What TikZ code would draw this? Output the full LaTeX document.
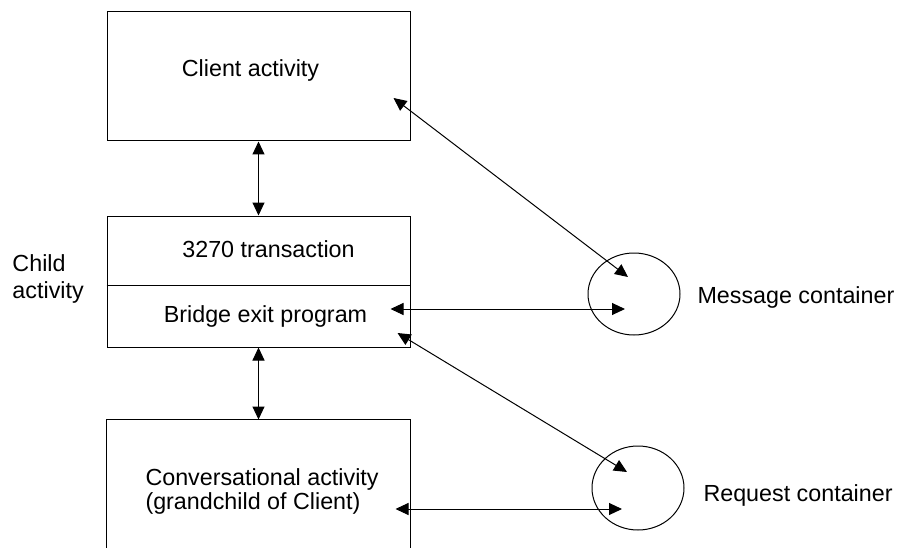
\documentclass[tikz,border=0pt]{standalone}
\usepackage{fontspec}
\setmainfont{Liberation Sans}
\usetikzlibrary{arrows.meta,shapes.geometric}
\begin{document}
\begin{tikzpicture}
      [x=1pt,y=-1pt,line width=1pt,>={Triangle[length=13pt,width=12pt]},
       font=\fontsize{23.3}{24}\selectfont,
       box/.style={draw, rectangle, inner sep=0pt, minimum width=303pt},
       cont/.style={draw, ellipse, inner sep=0pt, minimum width=92pt, minimum height=82pt},
       lbl/.style={inner sep=0pt, anchor=base},
       side/.style={inner sep=0pt, anchor=base west, align=left}]
    \useasboundingbox (0,0) rectangle (901,548);

    \node[box, minimum height=129pt] (client) at (258.5,76.5) {};
    \node[box, minimum height=131pt] (child) at (258.5,281.5) {};
    \node[inner sep=0pt, minimum width=303pt, minimum height=128pt] (conv) at (258.5,484) {};
    \node[cont] (msg) at (634,294) {};
    \node[cont, minimum height=84pt] (req) at (638,488) {};

    \draw ([yshift=-3.5pt]child.west) -- ([yshift=-3.5pt]child.east);
    \draw (conv.south west) -- (conv.north west) -- (conv.north east) -- (conv.south east);

    \node[lbl] (clienttxt) at (250.5,77) {Client activity};
    \node[lbl] (transtxt) at (268.5,257) {3270 transaction};
    \node[lbl] (bridgetxt) at (265.5,322) {Bridge exit program};
    \node[side] (convtxt) at (145,509) {Conversational activity\\(grandchild of Client)};
    \node[side, font=\fontsize{23.3}{27}\selectfont] (childtxt) at (12,298) {Child\\activity};
    \node[side] (msgtxt) at (697,303) {Message container};
    \node[side] (reqtxt) at (703,501) {Request container};

    \foreach \from/\to in {client/child, child/conv}
      \draw[<->] (\from.south) -- (\to.north);
    \draw[<->] ([shift={(-17,21.5)}]client.east) -- ([shift={(-6,-17)}]msg.center);
    \draw[<->] ([shift={(-20,27.5)}]child.east) -- ([shift={(-9,15)}]msg.center);
    \draw[<->] ([shift={(-13,51.5)}]child.east) -- ([shift={(-11,-16)}]req.center);
    \draw[<->] ([shift={(-15,25)}]conv.east) -- ([shift={(-16,21)}]req.center);
  \end{tikzpicture}
\end{document}
